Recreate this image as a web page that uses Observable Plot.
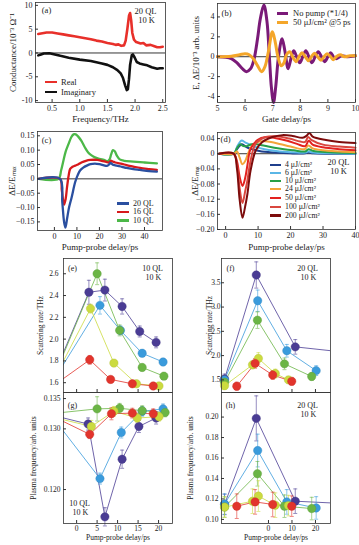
<!DOCTYPE html>
<html><head><meta charset="utf-8">
<script src="https://cdn.jsdelivr.net/npm/d3@7"></script>
<script src="https://cdn.jsdelivr.net/npm/@observablehq/plot@0.6"></script>
<style>
body{margin:0;background:#fff;}
#fig{position:relative;width:359px;height:545px;overflow:hidden;font-family:"Liberation Serif",serif;color:#222;}
</style></head><body><div id="fig"></div>
<script>
// ---------- DATA ----------
// (a) conductance spectra [freq THz, value]
const aReal = [[0.25,4.0],[0.3,4.1],[0.4,4.3],[0.5,4.3],[0.6,4.1],[0.7,3.9],[0.8,3.7],[0.9,3.5],[1.0,3.3],[1.1,3.1],[1.2,2.9],[1.3,2.6],[1.4,2.4],[1.5,2.1],[1.6,1.9],[1.65,1.7],[1.7,1.8],[1.75,1.5],[1.8,1.6],[1.83,2.6],[1.86,5.0],[1.89,7.8],[1.91,8.4],[1.93,6.8],[1.95,4.2],[1.98,2.8],[2.02,2.3],[2.1,2.0],[2.15,2.1],[2.2,1.6],[2.28,1.7],[2.35,1.4],[2.4,1.2],[2.45,1.2],[2.5,1.3]];
const aImag = [[0.25,-0.5],[0.3,-0.3],[0.35,-0.1],[0.45,-0.05],[0.55,-0.3],[0.65,-0.6],[0.8,-1.0],[1.0,-1.4],[1.2,-1.7],[1.4,-2.2],[1.5,-2.5],[1.6,-3.0],[1.68,-3.6],[1.74,-4.3],[1.78,-5.2],[1.82,-6.8],[1.85,-7.8],[1.87,-7.6],[1.89,-5.5],[1.91,-2.5],[1.94,-0.5],[1.96,-0.3],[1.99,-0.9],[2.03,-1.9],[2.08,-2.2],[2.15,-2.4],[2.22,-2.6],[2.3,-3.0],[2.4,-3.3],[2.45,-3.2],[2.5,-3.2]];
const aLegend = ["Real","Imaginary"];
// (b) THz waveforms [gate delay ps, value]
const bNoPump = [[5.0,0],[5.3,-0.05],[5.5,-0.2],[5.7,-0.6],[5.9,-1.2],[6.05,-1.5],[6.2,-1.2],[6.32,-0.3],[6.45,1.8],[6.55,3.8],[6.68,5.2],[6.79,3.6],[6.88,0],[6.95,-3.0],[7.03,-4.6],[7.11,-3.0],[7.21,0],[7.34,1.8],[7.44,0.6],[7.56,-1.2],[7.66,-0.2],[7.76,0.6],[7.87,0],[7.98,-0.6],[8.09,0],[8.2,0.6],[8.31,0],[8.42,-0.6],[8.54,0],[8.65,0.5],[8.77,0],[8.88,-0.5],[9.0,0],[9.1,0.4],[9.2,0],[9.3,-0.2],[9.5,0.1],[9.7,0],[10.0,0.1]];
const bPumped = [[5.0,0],[5.5,0.05],[5.8,0.2],[6.0,0.3],[6.15,0.2],[6.3,-0.2],[6.45,-0.9],[6.6,-1.5],[6.72,-1.0],[6.85,0.6],[6.99,2.5],[7.09,1.5],[7.19,0],[7.31,-0.9],[7.41,-0.6],[7.5,0.2],[7.62,0.5],[7.72,0],[7.85,-0.5],[7.95,0],[8.06,0.4],[8.18,0],[8.3,-0.4],[8.4,0],[8.52,0.35],[8.63,0],[8.75,-0.35],[8.86,0],[8.97,0.3],[9.1,0],[9.2,-0.3],[9.3,0],[9.45,0.2],[9.6,0],[9.8,0.1],[10.0,0.1]];
const bLegend = ["No pump (*1/4)","50 μJ/cm² @5 ps"];
// (c) thickness dependence [delay ps, dE/Emax]
const c20 = [[-7,0],[2.5,0],[3.5,-0.08],[4.3,-0.15],[4.9,-0.17],[5.6,-0.14],[6.5,-0.1],[7.7,-0.063],[9.2,-0.012],[10.3,0.012],[11.4,0.029],[12.8,0.039],[14.4,0.046],[16,0.051],[18,0.053],[20,0.051],[22,0.047],[23.3,0.045],[24.3,0.05],[24.9,0.056],[25.8,0.05],[27,0.047],[30,0.042],[32,0.038],[35,0.034],[38,0.031],[42,0.027],[45.5,0.025]];
const c16 = [[-7,0],[2.5,0],[3.3,-0.04],[4.3,-0.09],[5,-0.07],[5.6,-0.03],[6.3,0.01],[7,0.035],[8,0.042],[9.2,0.046],[10.5,0.05],[12,0.057],[14,0.063],[16,0.066],[19,0.066],[21,0.063],[23,0.059],[24.2,0.057],[25,0.063],[26,0.06],[27,0.057],[30,0.052],[32,0.048],[35,0.043],[38,0.038],[42,0.034],[45.5,0.031]];
const c10 = [[-7,0],[1.8,0],[3,0.03],[4,0.063],[5,0.095],[6.2,0.12],[7.5,0.145],[8.5,0.155],[9.5,0.155],[10.5,0.148],[12,0.132],[13.5,0.11],[15,0.092],[16.5,0.082],[18,0.075],[20,0.07],[22,0.066],[23.7,0.062],[24.5,0.068],[25.2,0.085],[26,0.1],[26.8,0.096],[27.8,0.08],[29,0.068],[31,0.063],[35,0.06],[40,0.057],[45.5,0.054]];
const cLegend = ["20 QL","16 QL","10 QL"];
// (d) fluence dependence [delay ps, dE/Emax]
const d4 = [[-2,0],[2.5,0],[3.5,0.012],[4.5,0.022],[5,0.025],[6,0.02],[7,0.015],[8.5,0.011],[10,0.008],[12,0.005],[15,0.003],[20,0.001],[24.5,0.001],[25.5,0.003],[27,0.001],[32,0],[40,0]];
const d6 = [[-2,0],[2.5,0],[3.5,0.018],[4.5,0.032],[5,0.035],[6,0.03],[7,0.026],[8,0.022],[10,0.016],[12,0.012],[15,0.008],[18,0.005],[22,0.003],[24.5,0.003],[25.5,0.006],[27,0.003],[32,0.001],[40,0]];
const d10 = [[-2,0],[2.5,0],[3.5,0.015],[4.5,0.025],[5.5,0.02],[6.5,0.02],[8,0.025],[9.5,0.025],[12,0.021],[15,0.016],[18,0.012],[21,0.009],[24.5,0.006],[25.5,0.012],[27,0.007],[32,0.004],[40,0.002]];
const d24 = [[-2,0],[2.5,0],[3.5,0.006],[4.3,-0.01],[5.2,-0.028],[6,-0.02],[6.8,-0.002],[7.8,0.017],[9,0.027],[10.5,0.032],[12,0.033],[14,0.031],[17,0.025],[20,0.019],[24.3,0.012],[25.5,0.022],[26.8,0.014],[30,0.009],[35,0.006],[40,0.004]];
const d50 = [[-2,0],[2.5,0],[3.5,-0.02],[4.3,-0.06],[5.2,-0.085],[6,-0.065],[6.7,-0.031],[7.7,0.013],[9.8,0.036],[12.4,0.044],[15.5,0.041],[19,0.034],[22,0.026],[24.5,0.02],[25.6,0.034],[26.8,0.024],[30,0.017],[35,0.012],[40,0.009]];
const d100 = [[-2,0],[2.5,0],[3.5,-0.03],[4.3,-0.09],[5.2,-0.13],[6,-0.1],[6.7,-0.071],[7.7,-0.018],[9.3,0.027],[12.4,0.044],[15.5,0.046],[19.6,0.04],[23,0.032],[24.5,0.031],[25.4,0.044],[26.5,0.036],[30,0.024],[35,0.019],[40,0.016]];
const d200 = [[-2,0],[2.5,0],[3.5,-0.04],[4.3,-0.12],[5.2,-0.169],[6,-0.14],[6.7,-0.107],[7.7,-0.044],[9.3,0.009],[11.3,0.031],[14.4,0.044],[17.5,0.049],[20.6,0.047],[23.7,0.042],[25,0.048],[25.8,0.055],[26.8,0.045],[30.9,0.036],[35,0.031],[40,0.028]];
const dLegend = ["4 μJ/cm²","6 μJ/cm²","10 μJ/cm²","24 μJ/cm²","50 μJ/cm²","100 μJ/cm²","200 μJ/cm²"];
// (e) scattering rate 10 QL [delay ps, THz, error]  (null error = point outside the frame)
const ePurple = [[-5,1.72,null],[3.0,2.43,0.11],[6.9,2.45,0.10],[11.1,2.30,0.07],[15.4,2.07,0.05],[19.4,1.97,0.05]];
const eBlue   = [[-5,1.66,null],[5.7,2.31,0.08],[10.7,2.08,0.04],[16,1.87,0.03],[21.1,1.79,0.03]];
const eGreen  = [[-5,1.70,null],[5.0,2.60,0.10],[10.5,2.08,0.05],[16,1.74,0.03],[21.3,1.66,0.03]];
const eYellow = [[-5,1.67,null],[3.4,2.28,0.04],[9.1,1.78,0.03],[14.6,1.59,0.02],[20.1,1.57,0.02]];
const eRed    = [[-5,1.59,null],[3.2,1.81,0.04],[8.3,1.63,0.02],[13.6,1.59,0.02],[18.7,1.57,0.02]];
// (g) plasma frequency 10 QL
const gPurple = [[-5,0.1321,null],[2.8,0.1308,0.001],[6.9,0.1155,0.0015],[11.1,0.1250,0.0015],[15.2,0.1304,0.001],[19.4,0.1318,0.001]];
const gBlue   = [[-5,0.1312,null],[5.7,0.1218,0.0009],[10.9,0.1294,0.0009],[16,0.1329,0.0008],[21.1,0.1333,0.0008]];
const gGreen  = [[-5,0.1326,null],[5.0,0.1333,0.002],[10.5,0.1334,0.0008],[16,0.1330,0.0008],[21.6,0.1327,0.0007]];
const gYellow = [[-5,0.1318,null],[3.6,0.1304,0.001],[9.1,0.1329,0.0008],[14.8,0.1318,0.0007],[20.1,0.1320,0.0007]];
const gRed    = [[-5,0.1318,null],[3.2,0.1291,0.0007],[8.5,0.1325,0.001],[13.6,0.1326,0.0008],[18.7,0.1325,0.0008]];
// (f) scattering rate 20 QL
const fPurple = [[-18.7,1.52,0.1],[-5.2,3.66,0.27],[11.4,2.18,0.15],[40,2.03,null]];
const fBlue   = [[-18.7,1.50,0.08],[-4.6,3.13,0.22],[7.8,2.10,0.13],[20.3,1.69,0.1]];
const fGreen  = [[-18.7,1.45,0.07],[-4.7,2.73,0.17],[6.8,1.83,0.12],[18.4,1.57,0.08]];
const fYellow = [[-18.7,1.38,0.07],[-6.8,1.81,0.08],[-4.3,1.94,0.12],[2.9,1.63,0.09],[8.5,1.50,0.07]];
const fRed    = [[-13.5,1.37,0.08],[-5.7,1.84,0.1],[1.8,1.60,0.09],[9.9,1.47,0.08]];
// (h) plasma frequency 20 QL
const hPurple = [[-18.7,0.1146,0.01],[-5.2,0.1987,0.022],[11.4,0.1178,0.012],[40,0.1146,null]];
const hBlue   = [[-18.7,0.1150,0.01],[-4.6,0.1673,0.016],[7.8,0.1171,0.012],[20.3,0.1112,0.011]];
const hGreen  = [[-18.7,0.1121,0.01],[-4.7,0.1446,0.012],[6.8,0.1129,0.011],[18.4,0.1106,0.011]];
const hYellow = [[-18.7,0.1120,0.01],[-6.8,0.1178,0.012],[-4.3,0.1228,0.015],[2.9,0.1139,0.012],[8.5,0.1135,0.01]];
const hRed    = [[-13.5,0.1129,0.012],[-5.7,0.1171,0.012],[1.8,0.1146,0.012],[9.9,0.1129,0.01]];
// tick values
const aXTicks = [0.5,1,1.5,2,2.5], aYTicks = [-10,-5,0,5,10];
const bXTicks = [5,6,7,8,9,10], bYTicks = [-4,-2,0,2,4];
const cXTicks = [0,10,20,30,40], cYTicks = [-0.15,-0.1,-0.05,0,0.05,0.1,0.15];
const dXTicks = [0,10,20,30,40], dYTicks = [-0.2,-0.16,-0.12,-0.08,-0.04,0,0.04];
const egXTicks = [0,5,10,15,20], eYTicks = [1.6,1.8,2.0,2.2,2.4,2.6], gYTicks = [0.12,0.13,0.135];
const fhXTicks = [0,10,20], fYTicks = [1.5,2.0,2.5,3.0,3.5], hYTicks = [0.10,0.12,0.14,0.16,0.18,0.20];

// ---------- STYLE ----------
const FONT = "Liberation Serif";
const P="#4a3c94", B="#3a9bdc", G="#6bb545", Y="#cbdb3f", R="#e2342c";
const dColors = ["#1f3f8c","#5ab6e6","#27a047","#f3a53a","#e3221f","#d9473f","#7d0c0c"];
const fig = document.getElementById("fig");
const fmt2 = d => d === 0 ? "0" : d3.format(".2f")(d);
const fmt1 = d3.format(".1f"), fmt3 = d3.format(".3f");
const X = d => d[0], Yv = d => d[1];

function place(svg, left, top){ svg.style.position="absolute"; svg.style.left=left+"px"; svg.style.top=top+"px"; fig.appendChild(svg); }
function axes(xt, yt, xf, yf, fs, xlab=true, ypad=6){
  return [
    Plot.axisX({ticks: xt, tickSize: -3, tickPadding: 5.5, tickFormat: xlab ? xf : () => "", fontSize: fs, label: null, stroke:"#333"}),
    Plot.axisY({ticks: yt, tickSize: -3, tickPadding: ypad, tickFormat: yf, fontSize: fs, label: null, stroke:"#333"})
  ];
}
const note = (t, frameAnchor, dx, dy, fs, extra={}) => Plot.text([t], {text: d=>d, frameAnchor, dx, dy, fontSize: fs, lineAnchor:"middle", textAnchor:"middle", ...extra});
const ytitle = (t, dx, fs) => note(t, "left", dx, 0, fs, {rotate: -90});
const xtitle = (t, dy, fs) => note(t, "bottom", 0, dy, fs);
const frame = () => Plot.frame({stroke:"#333", strokeWidth:0.8});
const base = (w,h,mt,mr,mb,ml,fs) => ({width:w, height:h, marginTop:mt, marginRight:mr, marginBottom:mb, marginLeft:ml,
  style:{fontFamily:FONT, fontSize:fs+"px", background:"transparent", color:"#222", overflow:"visible"}});
const cap = {draw(ctx, size){ const w = Math.sqrt(size/Math.PI); ctx.moveTo(-w,0); ctx.lineTo(w,0); }};

function scatter(series){
  const m = [];
  for (const [data,c] of series) m.push(Plot.line(data, {x:X, y:Yv, stroke:c, strokeWidth:0.8, clip:true}));
  for (const [data,c] of series){
    const e = data.filter(d => d[2] != null);
    m.push(Plot.ruleX(e, {x:X, y1:d=>d[1]-d[2], y2:d=>d[1]+d[2], stroke:c, strokeOpacity:0.65, strokeWidth:0.9}));
    m.push(Plot.dot(e, {x:X, y:d=>d[1]+d[2], symbol:cap, r:2, fill:"none", stroke:c, strokeOpacity:0.65, strokeWidth:0.9}));
    m.push(Plot.dot(e, {x:X, y:d=>d[1]-d[2], symbol:cap, r:2, fill:"none", stroke:c, strokeOpacity:0.65, strokeWidth:0.9}));
  }
  for (const [data,c] of series) m.push(Plot.dot(data.filter(d => d[2] != null), {x:X, y:Yv, r:4.2, fill:c, stroke:d3.color(c).darker(0.4).formatHex(), strokeWidth:0.4}));
  return m;
}
function legend(left, rows, {w=12, gap=4, fs=8.5, lw=2.5, rh=8}={}){
  rows.forEach(([label, color, y]) => {
    const div = document.createElement("div");
    div.style.cssText = `position:absolute;left:${left}px;top:${y-rh/2}px;height:${rh}px;line-height:${rh}px;font-size:${fs}px;white-space:nowrap;display:flex;align-items:center;overflow:visible;`;
    const sw = document.createElement("span");
    sw.style.cssText = `display:inline-block;width:${w}px;height:${lw}px;background:${color};margin-right:${gap}px;`;
    const tx = document.createElement("span");
    tx.style.cssText = `line-height:${rh}px;`;
    tx.textContent = label;
    div.appendChild(sw); div.appendChild(tx);
    fig.appendChild(div);
  });
}

// ---------- (a) ----------
place(Plot.plot({...base(170,128,2,5,26,35,8),
  x:{domain:[0.2,2.55]}, y:{domain:[-10.4,10.6]},
  marks:[
    Plot.ruleY([0], {stroke:"#000", strokeWidth:0.8}),
    Plot.line(aReal, {x:X, y:Yv, stroke:"#e8302a", strokeWidth:2.6}),
    Plot.line(aImag, {x:X, y:Yv, stroke:"#111", strokeWidth:2.6}),
    frame(), ...axes(aXTicks, aYTicks, d=>d3.format(".1f")(d), d=>d, 8),
    note("(a)", "top-left", 11, 8, 8.5), note("20 QL", "top-right", -20, 9, 8.5), note("10 K", "top-right", -19, 18, 8.5),
    ytitle("Conductance/10⁻³ Ω⁻¹", -22, 9), xtitle("Frequency/THz", 17, 9)
  ]}), 0, 0);
legend(45, [[aLegend[0],"#e8302a",82],[aLegend[1],"#111",92]], {rh:9});

// ---------- (b) ----------
place(Plot.plot({...base(181,128,3,4,26,39,8),
  x:{domain:[5,10]}, y:{domain:[-4.6,5.35]},
  marks:[
    Plot.ruleY([0], {stroke:"#000", strokeWidth:0.8}),
    Plot.line(bNoPump, {x:X, y:Yv, stroke:"#7a1a78", strokeWidth:3, curve:"catmull-rom"}),
    Plot.line(bPumped, {x:X, y:Yv, stroke:"#f4a62a", strokeWidth:3, curve:"catmull-rom"}),
    frame(), ...axes(bXTicks, bYTicks, d=>d, d=>d, 8),
    note("(b)", "top-left", 9, 10, 8.5),
    ytitle("E, ΔE/10⁻³ arb. units", -21, 9), xtitle("Gate delay/ps", 17, 9)
  ]}), 178, 0);
legend(277, [[bLegend[0],"#7a1a78",13],[bLegend[1],"#f4a62a",22]], {w:11, gap:5, lw:3, rh:9});

// ---------- (c) ----------
place(Plot.plot({...base(170,125,3,8,23,37,8),
  x:{domain:[-7.5,48]}, y:{domain:[-0.18,0.165]},
  marks:[
    Plot.ruleY([0], {stroke:"#000", strokeWidth:0.8}),
    Plot.line(c10, {x:X, y:Yv, stroke:"#4cb848", strokeWidth:2.3, curve:"catmull-rom"}),
    Plot.line(c16, {x:X, y:Yv, stroke:"#d7191c", strokeWidth:2.3, curve:"catmull-rom"}),
    Plot.line(c20, {x:X, y:Yv, stroke:"#2a4fa0", strokeWidth:2.3, curve:"catmull-rom"}),
    frame(), ...axes(cXTicks, cYTicks, d=>d, fmt2, 8),
    note("(c)", "top-left", 9, 9, 8.5),
    ytitle("ΔE/Eₘₐₓ", -25, 9), xtitle("Pump-probe delay/ps", 17, 9)
  ]}), 0, 128);
legend(117, [[cLegend[0],"#2a4fa0",203.5],[cLegend[1],"#d7191c",212],[cLegend[2],"#4cb848",220.5]], {fs:8, rh:8});

// ---------- (d) ----------
const dSeries = [d4,d6,d10,d24,d50,d100,d200];
place(Plot.plot({...base(181,125,4,4,24,39,8),
  x:{domain:[-2.5,40]}, y:{domain:[-0.2,0.056]},
  marks:[
    Plot.ruleY([0], {stroke:"#000", strokeWidth:0.8}),
    ...dSeries.map((s,i) => Plot.line(s, {x:X, y:Yv, stroke:dColors[i], strokeWidth:2, curve:"catmull-rom"})),
    frame(), ...axes(dXTicks, dYTicks, d=>d, fmt2, 8),
    note("(d)", "top-left", 8, 7, 8.5), note("20 QL", "top-right", -17, 30, 8.5), note("10 K", "top-right", -17, 39, 8.5),
    ytitle("ΔE/Eₘₐₓ", -22, 9), xtitle("Pump-probe delay/ps", 18, 9)
  ]}), 178, 128);
legend(270, dLegend.map((l,i) => [l, dColors[i], [165,173,181,189.3,197.7,206.7,215.5][i]]), {w:11, gap:4, fs:7.8, lw:2.2, rh:8});

// ---------- (e) ----------
place(Plot.plot({...base(180,140,5,8,1,63,7.5),
  x:{domain:[-3.2,23.4]}, y:{domain:[1.51,2.74]},
  marks:[
    ...scatter([[ePurple,P],[eBlue,B],[eGreen,G],[eYellow,Y],[eRed,R]]),
    frame(), ...axes(egXTicks, eYTicks, d=>d, fmt1, 7.5, false, 8),
    note("(e)", "top-left", 9, 10, 8), note("10 QL", "top-right", -20, 10, 8), note("10 K", "top-right", -19, 19, 8),
    ytitle("Scattering rate/THz", -23, 7.5)
  ]}), 0, 253);

// ---------- (g) ----------
place(Plot.plot({...base(180,154,1,8,22,63,7.5),
  x:{domain:[-3.2,23.4]}, y:{domain:[0.1144,0.136]},
  marks:[
    ...scatter([[gPurple,P],[gBlue,B],[gGreen,G],[gYellow,Y],[gRed,R]]),
    frame(), ...axes(egXTicks, gYTicks, d=>d, fmt3, 7.5),
    note("(g)", "top-left", 9, 13, 8), note("10 QL", "bottom-left", 16, -20, 8), note("10 K", "bottom-left", 17, -11, 8),
    ytitle("Plasma frequency/arb. units", -30, 7.5), xtitle("Pump-probe delay/ps", 14, 7.5)
  ]}), 0, 391);

// ---------- (f) ----------
place(Plot.plot({...base(181,140,5,29,1,43,7.5),
  x:{domain:[-20,26.4]}, y:{domain:[1.24,4.0]},
  marks:[
    ...scatter([[fPurple,P],[fBlue,B],[fGreen,G],[fYellow,Y],[fRed,R]]),
    frame(), ...axes(fhXTicks, fYTicks, d=>d, fmt1, 7.5, false, 4),
    note("(f)", "top-left", 9, 10, 8), note("20 QL", "top-right", -23, 10, 8), note("10 K", "top-right", -22, 19, 8),
    ytitle("Scattering rate/THz", -12, 7.5)
  ]}), 178, 253);

// ---------- (h) ----------
place(Plot.plot({...base(181,154,1,29,22,43,7.5),
  x:{domain:[-20,26.4]}, y:{domain:[0.096,0.224]},
  marks:[
    ...scatter([[hPurple,P],[hBlue,B],[hGreen,G],[hYellow,Y],[hRed,R]]),
    frame(), ...axes(fhXTicks, hYTicks, d=>d, fmt2, 7.5),
    note("(h)", "top-left", 9, 13, 8), note("20 QL", "top-right", -23, 13, 8), note("10 K", "top-right", -22, 22, 8),
    ytitle("Plasma frequency/arb. units", -31, 7.5), xtitle("Pump-probe delay/ps", 14, 7.5)
  ]}), 178, 391);
</script></body></html>
